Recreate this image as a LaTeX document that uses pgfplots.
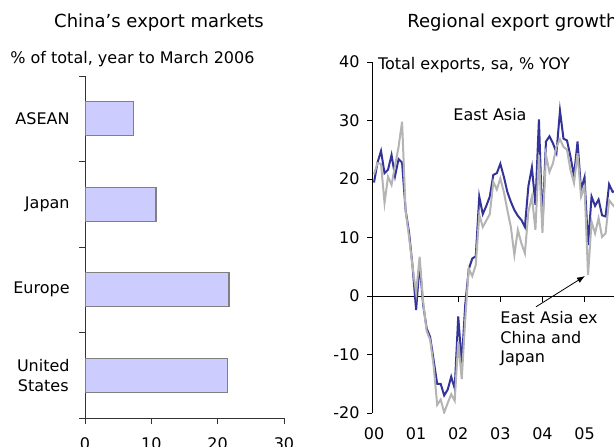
\documentclass[border=0pt]{standalone}
\usepackage{pgfplots}
\pgfplotsset{compat=1.18}
\usepackage{pgfplotstable}
\usepackage{fontspec}
\setmainfont{DejaVu Sans}
\usetikzlibrary{arrows.meta}
\definecolor{barfill}{HTML}{CCCCFF}
\definecolor{barline}{HTML}{808080}
\definecolor{eablue}{HTML}{333399}
\definecolor{exgray}{HTML}{B4B4B4}

\pgfplotstableread{
pos share
3 7.3
2 10.7
1 21.7
0 21.5
}\markets

\pgfplotstableread{
m ea ex
0 19.4 20.8
1 22.8 22.7
2 24.8 22.6
3 21.0 15.9
4 21.6 20.4
5 24.1 19.0
6 20.5 22.3
7 23.4 25.5
8 22.8 29.8
9 14.7 14.6
10 10.8 10.0
11 5.0 5.0
12 -2.4 0.5
13 5.6 6.7
14 -1.5 -1.0
15 -5.5 -6.0
16 -7.0 -7.5
17 -11.0 -12.0
18 -15.0 -18.6
19 -15.0 -17.7
20 -17.0 -19.9
21 -16.0 -18.3
22 -13.8 -16.8
23 -15.8 -17.9
24 -3.5 -7.8
25 -11.5 -14.2
26 -1.5 -4.0
27 4.6 4.7
28 6.4 3.4
29 6.8 5.3
30 17.0 13.9
31 14.0 11.8
32 15.4 12.9
33 17.0 14.0
34 20.7 19.5
35 21.0 18.2
36 22.6 20.1
37 20.4 17.8
38 17.8 14.7
39 16.1 11.8
40 14.7 7.0
41 13.7 11.3
42 13.0 9.0
43 11.8 7.3
44 18.8 14.4
45 22.0 17.0
46 15.6 11.3
47 30.2 24.1
48 12.0 10.8
49 26.4 24.1
50 27.3 21.2
51 26.1 22.7
52 24.5 25.5
53 31.7 26.8
54 26.9 25.5
55 26.6 25.0
56 23.8 21.5
57 20.5 19.3
58 26.4 24.4
59 18.2 17.0
60 20.3 18.7
61 8.7 3.6
62 17.0 12.7
63 15.4 10.7
64 16.5 13.3
65 13.8 10.1
66 13.6 10.7
67 19.1 16.4
68 17.8 15.6
69 18.0 15.0
}\growth

\begin{document}
\fontsize{8}{9.8}\selectfont
\begin{tikzpicture}
\path[use as bounding box] (0pt,0pt) rectangle (307pt,223pt);

% Left panel
\begin{axis}[
  at={(42.5pt,14pt)}, anchor=south west,
  scale only axis, width=99.5pt, height=171pt,
  xmin=0, xmax=30, ymin=-0.5, ymax=3.5,
  axis x line*=bottom, axis y line*=left,
  axis line style={draw=black!80, line width=0.5pt},
  xbar, bar width=0.4,
  xtick={0,10,20,30},
  xticklabel style={anchor=north, inner sep=0pt, yshift=-7pt},
  ytick={-0.5,0.5,1.5,2.5,3.5}, yticklabels={},
  extra y ticks={0,1,2,3},
  extra y tick labels={{United\\States},Europe,Japan,ASEAN},
  extra y tick style={major tick length=0pt,
     yticklabel style={align=center, anchor=east, inner sep=0pt, xshift=-7.5pt}},
  tick align=outside, major tick length=2.8pt,
  tick style={draw=black!80, line width=0.5pt},
  /pgf/number format/assume math mode=true,
]
\addplot[fill=barfill, draw=barline, line width=0.6pt] table[x=share, y=pos] {\markets};
\end{axis}

% Right panel
\begin{axis}[
  at={(186pt,16.5pt)}, anchor=south west,
  scale only axis, width=121pt, height=175.5pt,
  xmin=-0.57, xmax=68.4, ymin=-20, ymax=40,
  axis y line*=left, axis x line*=bottom,
  x axis line style={draw=none},
  y axis line style={draw=black, line width=0.5pt},
  xtick={0,12,24,36,48,60}, xticklabels={00,01,02,03,04,05},
  xtick style={draw=none},
  xticklabel style={anchor=north, inner sep=0pt, yshift=-4.5pt},
  ytick={-20,-10,0,10,20,30,40}, yticklabels={-20,-10,0,10,20,30,40},
  yticklabel style={anchor=east, inner sep=0pt, xshift=-3.5pt},
  tick align=outside, major tick length=2.5pt,
  ytick style={draw=black, line width=0.5pt},
  clip=true,
]
\draw[line width=0.5pt] (axis cs:-0.57,0) -- (axis cs:68.4,0);
\pgfplotsinvokeforeach{12,24,36,48,60}{\draw[line width=0.5pt] (axis cs:#1,0) -- ++(0pt,-2.8pt);}
\addplot[eablue, line width=1pt] table[x=m, y=ea] {\growth};
\addplot[exgray, line width=1pt] table[x=m, y=ex] {\growth};
\end{axis}

% Titles and annotations
\node[anchor=base, font=\fontsize{9}{11}\selectfont, inner sep=0pt] at (79.5pt,209.5pt) {China’s export markets};
\node[anchor=base west, inner sep=0pt] at (5pt,191.5pt) {\% of total, year to March 2006};
\node[anchor=base west, font=\fontsize{9}{11}\selectfont, inner sep=0pt] at (203.5pt,209.5pt) {Regional export growth};
\node[anchor=base west, inner sep=0pt] at (188.8pt,188.5pt) {Total exports, sa, \% YOY};
\node[anchor=base west, inner sep=0pt] at (226.5pt,162.6pt) {East Asia};
\node[anchor=base west, inner sep=0pt] at (250pt,61.3pt) {East Asia ex};
\node[anchor=base west, inner sep=0pt] at (250pt,51.5pt) {China and};
\node[anchor=base west, inner sep=0pt] at (250pt,41.7pt) {Japan};
\draw[-{Latex[length=4pt,width=3pt]}, line width=0.4pt] (268pt,69.6pt) -- (292.5pt,85pt);
\end{tikzpicture}
\end{document}
